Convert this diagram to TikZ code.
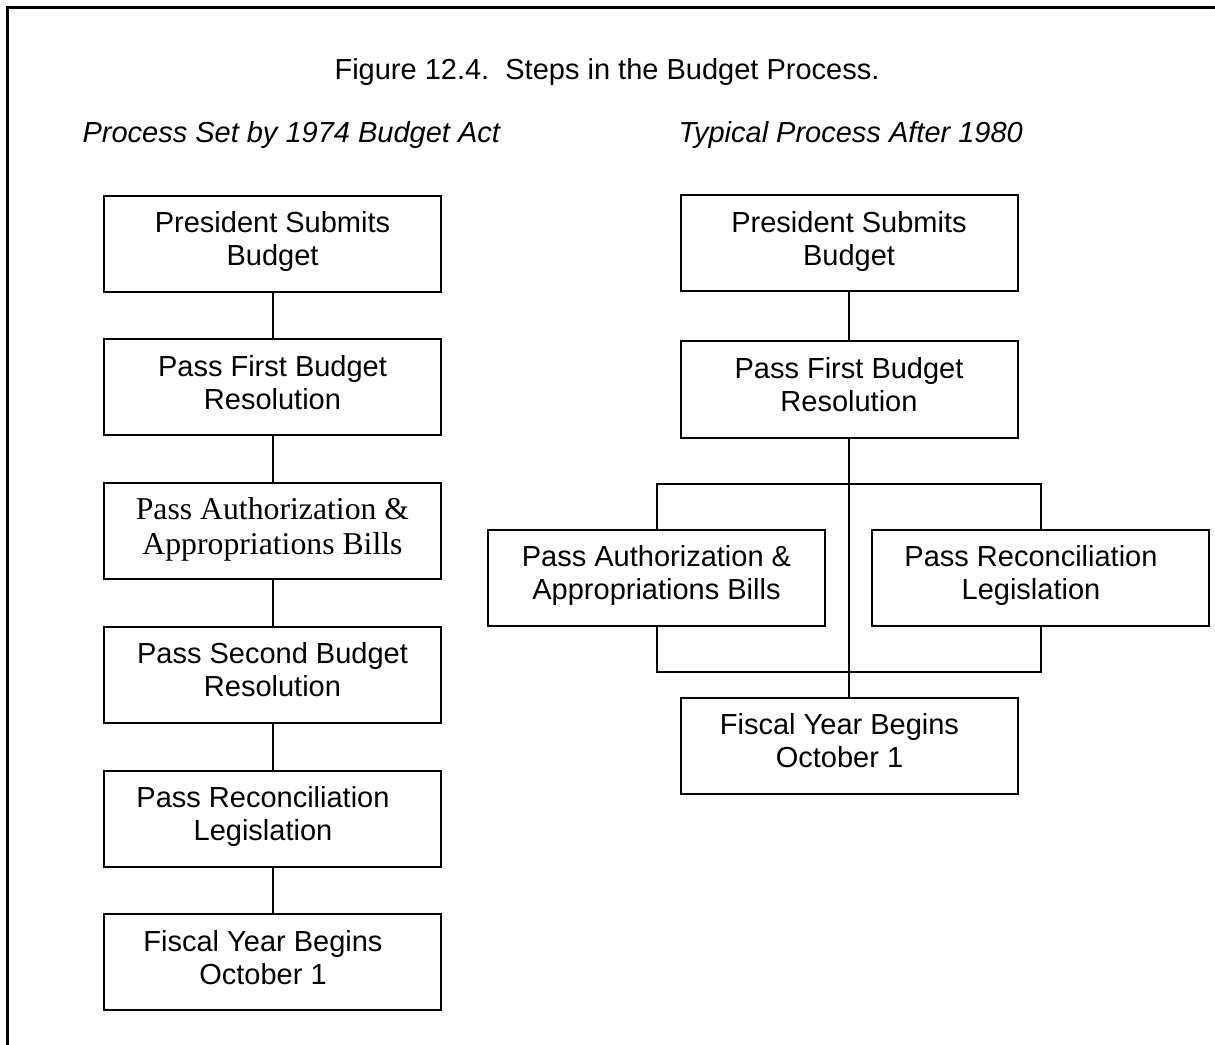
\documentclass[tikz,border=0pt]{standalone}
\usepackage{fontspec}
\setmainfont{Liberation Sans}
\newfontfamily\timesfont{Liberation Serif}
\usetikzlibrary{positioning,matrix,calc}

\tikzset{
    stepbox/.style={draw, line width=0.8pt, minimum width=134.8pt, minimum height=38.4pt,
        align=center, inner sep=2pt, font=\fontsize{11.6}{13.2}\selectfont,
        execute at begin node=\strut, execute at end node=\strut},
    link/.style={line width=0.8pt},
    heading/.style={inner sep=0pt, font=\fontsize{11.6}{13.2}\selectfont},
}
\newcommand{\padR}{\hspace*{7.6pt}}

\begin{document}
\begin{tikzpicture}[x=0.4pt, y=-0.4pt]
\useasboundingbox (0,0) rectangle (1215,1045);
\draw[line width=1.1pt] (7.5,1045) -- (7.5,7.5) -- (1215,7.5);

\node[heading, anchor=base] (title) at (607,80) {Figure 12.4.\ \ Steps in the Budget Process.};
\node[heading, anchor=base west, font=\fontsize{11.6}{13.2}\selectfont\itshape] (headL) at (82,143) {Process Set by 1974 Budget Act};
\node[heading, anchor=base west, font=\fontsize{11.6}{13.2}\selectfont\itshape] (headR) at (678,143) {Typical Process After 1980};

\matrix (L) at (272.5,603) [row sep=18.3pt]{
    \node[stepbox] (L1) {President Submits\\Budget};\\
    \node[stepbox] (L2) {Pass First Budget\\Resolution};\\
    \node[stepbox, font=\timesfont\fontsize{12.7}{14}\selectfont] (L3) {Pass Authorization \&\\Appropriations Bills};\\
    \node[stepbox] (L4) {Pass Second Budget\\Resolution};\\
    \node[stepbox] (L5) {Pass Reconciliation\padR\\Legislation\padR};\\
    \node[stepbox] (L6) {Fiscal Year Begins\padR\\October 1\padR};\\};

    \foreach \i [evaluate=\i as \j using {int(\i+1)}] in {1,...,5}
    \draw [link] (L\i) -- (L\j);

\node[stepbox] (R1) at (849,243.5) {President Submits\\Budget};
\node[stepbox, below=19.2pt of R1] (R2) {Pass First Budget\\Resolution};
\node[stepbox, below=36pt of R2, xshift=-77pt] (RA) {Pass Authorization \&\\Appropriations Bills};
\node[stepbox, below=36pt of R2, xshift=76.6pt] (RR) {Pass Reconciliation\padR\\Legislation\padR};
\node[stepbox, below=28pt of RA, xshift=77pt] (RF) {Fiscal Year Begins\padR\\October 1\padR};

    \coordinate (forkT) at ($(R2.south)!0.5!(R2.south |- RA.north)$);
    \coordinate (forkB) at ($(RF.north)+(0,-25)$);
    \draw [link] (R1) -- (R2);
    \draw [link] (R2.south) -- (RF.north);
    \draw [link] (RA.north) |- (forkT) -| (RR.north);
    \draw [link] (RA.south) |- (forkB) -| (RR.south);

\end{tikzpicture}
\end{document}
